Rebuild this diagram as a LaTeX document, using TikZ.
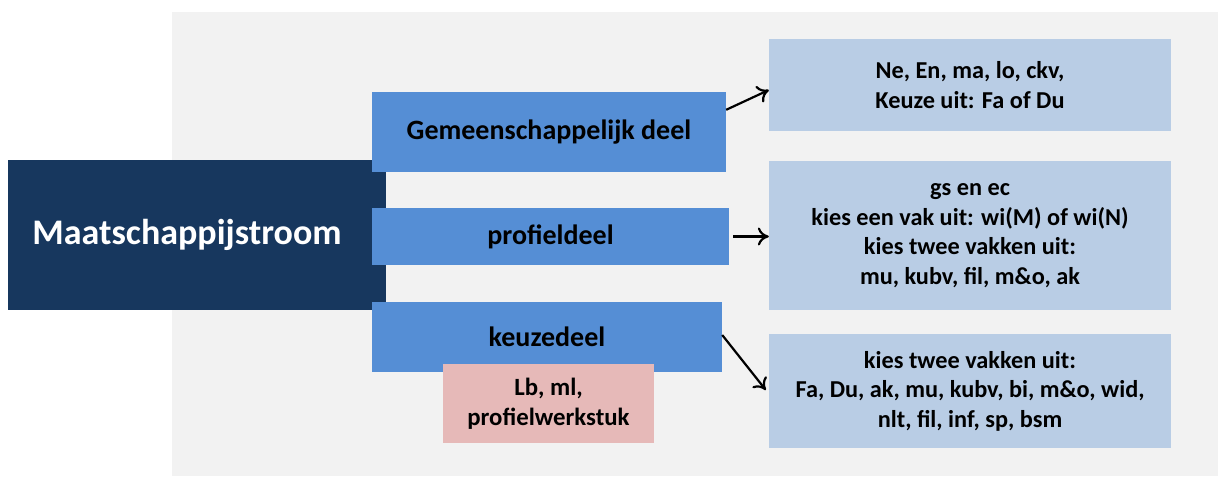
\documentclass[tikz,border=0pt]{standalone}
\usepackage{fontspec}
\setmainfont{Carlito}
\usetikzlibrary{arrows.meta,calc}
\definecolor{bggray}{HTML}{F2F2F2}
\definecolor{navy}{HTML}{17375E}
\definecolor{midblue}{HTML}{558ED5}
\definecolor{lightblue}{HTML}{B9CDE5}
\definecolor{pinkbox}{HTML}{E6B9B8}
\tikzset{
  box/.style={rectangle, inner sep=0pt, align=center, font=\bfseries},
  mainbox/.style={box, fill=navy, text=white, font=\bfseries\fontsize{36}{42}\selectfont},
  partbox/.style={box, fill=midblue, text=black, font=\bfseries\fontsize{28}{32}\selectfont},
  infobox/.style={box, fill=lightblue, text=black, font=\bfseries\fontsize{24.3}{29.5}\selectfont},
  pinkstyle/.style={box, fill=pinkbox, text=black, font=\bfseries\fontsize{24.8}{30}\selectfont},
  conn/.style={-{To[length=11pt,width=18pt]}, line width=2.2pt, black}
}
\begin{document}
\begin{tikzpicture}[x=1pt,y=-1pt]
\useasboundingbox (0,0) rectangle (1221,478);
\node[rectangle, fill=bggray, minimum width=1046pt, minimum height=464pt, inner sep=0pt] (bg) at (695,244) {};
\node[mainbox, minimum width=378pt, minimum height=150pt] (main) at (197,235) {Maatschappijstroom\hspace*{20pt}};
\node[partbox, minimum width=354pt, minimum height=80pt] (gem) at (549,132) {Gemeenschappelijk deel};
\node[partbox, minimum width=357pt, minimum height=57pt] (prof) at (550.5,236.5) {profieldeel};
\node[partbox, minimum width=350pt, minimum height=70pt] (keuze) at (547,337) {keuzedeel};
\node[pinkstyle, minimum width=211pt, minimum height=79pt] (pink) at (548.5,403.5) {Lb, ml,\\profielwerkstuk};
\node[infobox, minimum width=402pt, minimum height=92pt] (r1) at (970,85) {Ne, En, ma, lo, ckv,\\Keuze uit: Fa of Du};
\node[infobox, minimum width=402pt, minimum height=149pt] (r2) at (970,235.5) {gs en ec\\kies een vak uit: wi(M) of wi(N)\\kies twee vakken uit:\\mu, kubv, fil, m\&o, ak};
\node[infobox, minimum width=402pt, minimum height=114pt] (r3) at (970,391) {kies twee vakken uit:\\Fa, Du, ak, mu, kubv, bi, m\&o, wid,\\nlt, fil, inf, sp, bsm};
\draw[conn] ($(gem.north east)+(0,18)$) -- ($(r1.west)+(0,5)$);
\draw[conn] ($(prof.east)+(4,0)$) -- (r2.west |- prof.east);
\draw[conn] ($(keuze.east)+(0,-2)$) -- ($(r3.west)+(-3,-1)$);
\end{tikzpicture}
\end{document}
